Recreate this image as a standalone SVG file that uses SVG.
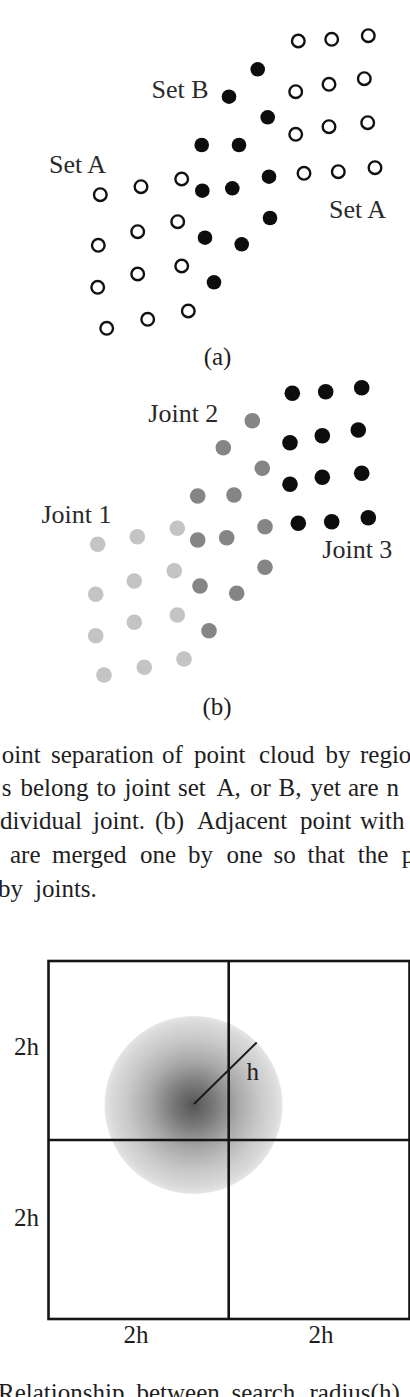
<svg xmlns="http://www.w3.org/2000/svg" width="410" height="1397" viewBox="0 0 410 1397">
<style>
text{font-family:"Liberation Serif","Times New Roman",serif;fill:#1e1e1e}
.lbl{font-size:26px;fill:#2a2a2a}
.cap{font-size:25px}
.ring{fill:none;stroke:#111;stroke-width:2.4}
.blk{fill:#0d0d0d}
.mid{fill:#858585}
.lt{fill:#c4c4c4}
.grid{fill:none;stroke:#151515;stroke-width:2.6}
</style>
<defs>
<radialGradient id="blob" cx="0.5" cy="0.5" r="0.5">
<stop offset="0" stop-color="#555"/>
<stop offset="0.25" stop-color="#7c7c7c"/>
<stop offset="0.5" stop-color="#a9a9a9"/>
<stop offset="0.75" stop-color="#c9c9c9"/>
<stop offset="0.93" stop-color="#dadada"/>
<stop offset="1" stop-color="#e6e6e6"/>
</radialGradient>
</defs>
<rect width="410" height="1397" fill="#fff"/>

<g id="panel-a">
<g id="setA-right">
<circle class="ring" cx="298.3" cy="41" r="6.3"/>
<circle class="ring" cx="331.7" cy="39.3" r="6.3"/>
<circle class="ring" cx="368.3" cy="35.7" r="6.3"/>
<circle class="ring" cx="295.7" cy="91.7" r="6.3"/>
<circle class="ring" cx="329" cy="84.3" r="6.3"/>
<circle class="ring" cx="364.3" cy="78.7" r="6.3"/>
<circle class="ring" cx="295.7" cy="134.3" r="6.3"/>
<circle class="ring" cx="329" cy="126.7" r="6.3"/>
<circle class="ring" cx="367.7" cy="122.7" r="6.3"/>
<circle class="ring" cx="304" cy="173.3" r="6.3"/>
<circle class="ring" cx="338.3" cy="171.7" r="6.3"/>
<circle class="ring" cx="375" cy="167.7" r="6.3"/>
</g>
<g id="setB">
<circle class="blk" cx="257.7" cy="69.3" r="7.3"/>
<circle class="blk" cx="229" cy="96.7" r="7.3"/>
<circle class="blk" cx="267.7" cy="117.3" r="7.3"/>
<circle class="blk" cx="201.7" cy="145" r="7.3"/>
<circle class="blk" cx="239" cy="145" r="7.3"/>
<circle class="blk" cx="269" cy="176.7" r="7.3"/>
<circle class="blk" cx="202.3" cy="190.7" r="7.3"/>
<circle class="blk" cx="232.3" cy="188.3" r="7.3"/>
<circle class="blk" cx="270" cy="218" r="7.3"/>
<circle class="blk" cx="205" cy="237.7" r="7.3"/>
<circle class="blk" cx="241.7" cy="244.3" r="7.3"/>
<circle class="blk" cx="214" cy="282.3" r="7.3"/>
</g>
<g id="setA-left">
<circle class="ring" cx="100.3" cy="194.7" r="6.3"/>
<circle class="ring" cx="141" cy="186.7" r="6.3"/>
<circle class="ring" cx="181.7" cy="179" r="6.3"/>
<circle class="ring" cx="98.3" cy="245.3" r="6.3"/>
<circle class="ring" cx="137.7" cy="231.7" r="6.3"/>
<circle class="ring" cx="177.7" cy="221.7" r="6.3"/>
<circle class="ring" cx="97.7" cy="287.3" r="6.3"/>
<circle class="ring" cx="137.7" cy="274" r="6.3"/>
<circle class="ring" cx="181.7" cy="266" r="6.3"/>
<circle class="ring" cx="106.7" cy="328.3" r="6.3"/>
<circle class="ring" cx="147.7" cy="319.3" r="6.3"/>
<circle class="ring" cx="188.3" cy="311" r="6.3"/>
</g>
<text class="lbl" x="151.5" y="97.5">Set B</text>
<text class="lbl" x="49" y="172.5">Set A</text>
<text class="lbl" x="329" y="218">Set A</text>
<text class="cap" x="217.5" y="365" text-anchor="middle">(a)</text>
</g>

<g id="panel-b">
<g id="joint3">
<circle class="blk" cx="292.3" cy="393.3" r="7.8"/>
<circle class="blk" cx="325.7" cy="391.7" r="7.8"/>
<circle class="blk" cx="361.7" cy="387.7" r="7.8"/>
<circle class="blk" cx="290" cy="442.7" r="7.8"/>
<circle class="blk" cx="322.3" cy="435.7" r="7.8"/>
<circle class="blk" cx="358.3" cy="430" r="7.8"/>
<circle class="blk" cx="290" cy="484.3" r="7.8"/>
<circle class="blk" cx="322.3" cy="477.3" r="7.8"/>
<circle class="blk" cx="361.7" cy="473.3" r="7.8"/>
<circle class="blk" cx="298.3" cy="523.3" r="7.8"/>
<circle class="blk" cx="331.7" cy="521.7" r="7.8"/>
<circle class="blk" cx="368.3" cy="517.7" r="7.8"/>
</g>
<g id="joint2">
<circle class="mid" cx="252.3" cy="420.7" r="7.8"/>
<circle class="mid" cx="223.3" cy="447.7" r="7.8"/>
<circle class="mid" cx="262.3" cy="468.3" r="7.8"/>
<circle class="mid" cx="197.7" cy="496" r="7.8"/>
<circle class="mid" cx="234" cy="495" r="7.8"/>
<circle class="mid" cx="265" cy="526.7" r="7.8"/>
<circle class="mid" cx="197.7" cy="540" r="7.8"/>
<circle class="mid" cx="226.7" cy="537.7" r="7.8"/>
<circle class="mid" cx="265" cy="567.3" r="7.8"/>
<circle class="mid" cx="200" cy="586" r="7.8"/>
<circle class="mid" cx="236.7" cy="593.3" r="7.8"/>
<circle class="mid" cx="209" cy="630.7" r="7.8"/>
</g>
<g id="joint1">
<circle class="lt" cx="97.7" cy="544.3" r="7.8"/>
<circle class="lt" cx="137.3" cy="536.7" r="7.8"/>
<circle class="lt" cx="177.3" cy="528.3" r="7.8"/>
<circle class="lt" cx="95.7" cy="594.3" r="7.8"/>
<circle class="lt" cx="134.3" cy="581" r="7.8"/>
<circle class="lt" cx="174.3" cy="570.7" r="7.8"/>
<circle class="lt" cx="95.7" cy="635.7" r="7.8"/>
<circle class="lt" cx="134.3" cy="622.3" r="7.8"/>
<circle class="lt" cx="177.3" cy="615" r="7.8"/>
<circle class="lt" cx="104" cy="675" r="7.8"/>
<circle class="lt" cx="144.3" cy="667.3" r="7.8"/>
<circle class="lt" cx="184" cy="659" r="7.8"/>
</g>
<text class="lbl" x="148.3" y="421.5">Joint 2</text>
<text class="lbl" x="41.5" y="523">Joint 1</text>
<text class="lbl" x="322.3" y="558">Joint 3</text>
<text class="cap" x="217" y="715" text-anchor="middle">(b)</text>
</g>

<g id="caption-1" class="cap">
<text class="cap" y="763"><tspan x="1.7">oint</tspan><tspan x="51">separation</tspan><tspan x="162">of</tspan><tspan x="194">point</tspan><tspan x="259">cloud</tspan><tspan x="325.5">by</tspan><tspan x="360">regio</tspan></text>
<text class="cap" y="796"><tspan x="1.7">s</tspan><tspan x="20.5">belong</tspan><tspan x="96.5">to</tspan><tspan x="124.5">joint</tspan><tspan x="178">set</tspan><tspan x="216.5">A,</tspan><tspan x="250">or</tspan><tspan x="278.5">B,</tspan><tspan x="310.5">yet</tspan><tspan x="348">are</tspan><tspan x="386.6">n</tspan></text>
<text class="cap" y="829"><tspan x="0">dividual</tspan><tspan x="93">joint.</tspan><tspan x="155">(b)</tspan><tspan x="197">Adjacent</tspan><tspan x="300">point</tspan><tspan x="360">with</tspan></text>
<text class="cap" y="863"><tspan x="10">are</tspan><tspan x="52">merged</tspan><tspan x="140">one</tspan><tspan x="188">by</tspan><tspan x="226.5">one</tspan><tspan x="273.5">so</tspan><tspan x="307.5">that</tspan><tspan x="357.8">the</tspan><tspan x="401.7">p</tspan></text>
<text class="cap" y="896.5"><tspan x="-2">by</tspan><tspan x="35">joints.</tspan></text>
</g>

<g id="search-grid">
<circle cx="193.5" cy="1105" r="89" fill="url(#blob)"/>
<rect class="grid" x="48.5" y="961" width="361" height="358"/>
<line class="grid" x1="228.7" y1="961" x2="228.7" y2="1319"/>
<line class="grid" x1="48.5" y1="1140" x2="409.5" y2="1140"/>
<line x1="194" y1="1104" x2="256.7" y2="1042.5" stroke="#1a1a1a" stroke-width="2"/>
<text class="cap" x="246.5" y="1080">h</text>
<text class="cap" x="14" y="1055">2h</text>
<text class="cap" x="14" y="1226">2h</text>
<text class="cap" x="123.5" y="1342.5">2h</text>
<text class="cap" x="308.5" y="1342.5">2h</text>
</g>

<g id="caption-2">
<text class="cap" y="1401"><tspan x="-2">Relationship</tspan><tspan x="136.5">between</tspan><tspan x="231.5">search</tspan><tspan x="309.5">radius(h)</tspan></text>
</g>
</svg>
